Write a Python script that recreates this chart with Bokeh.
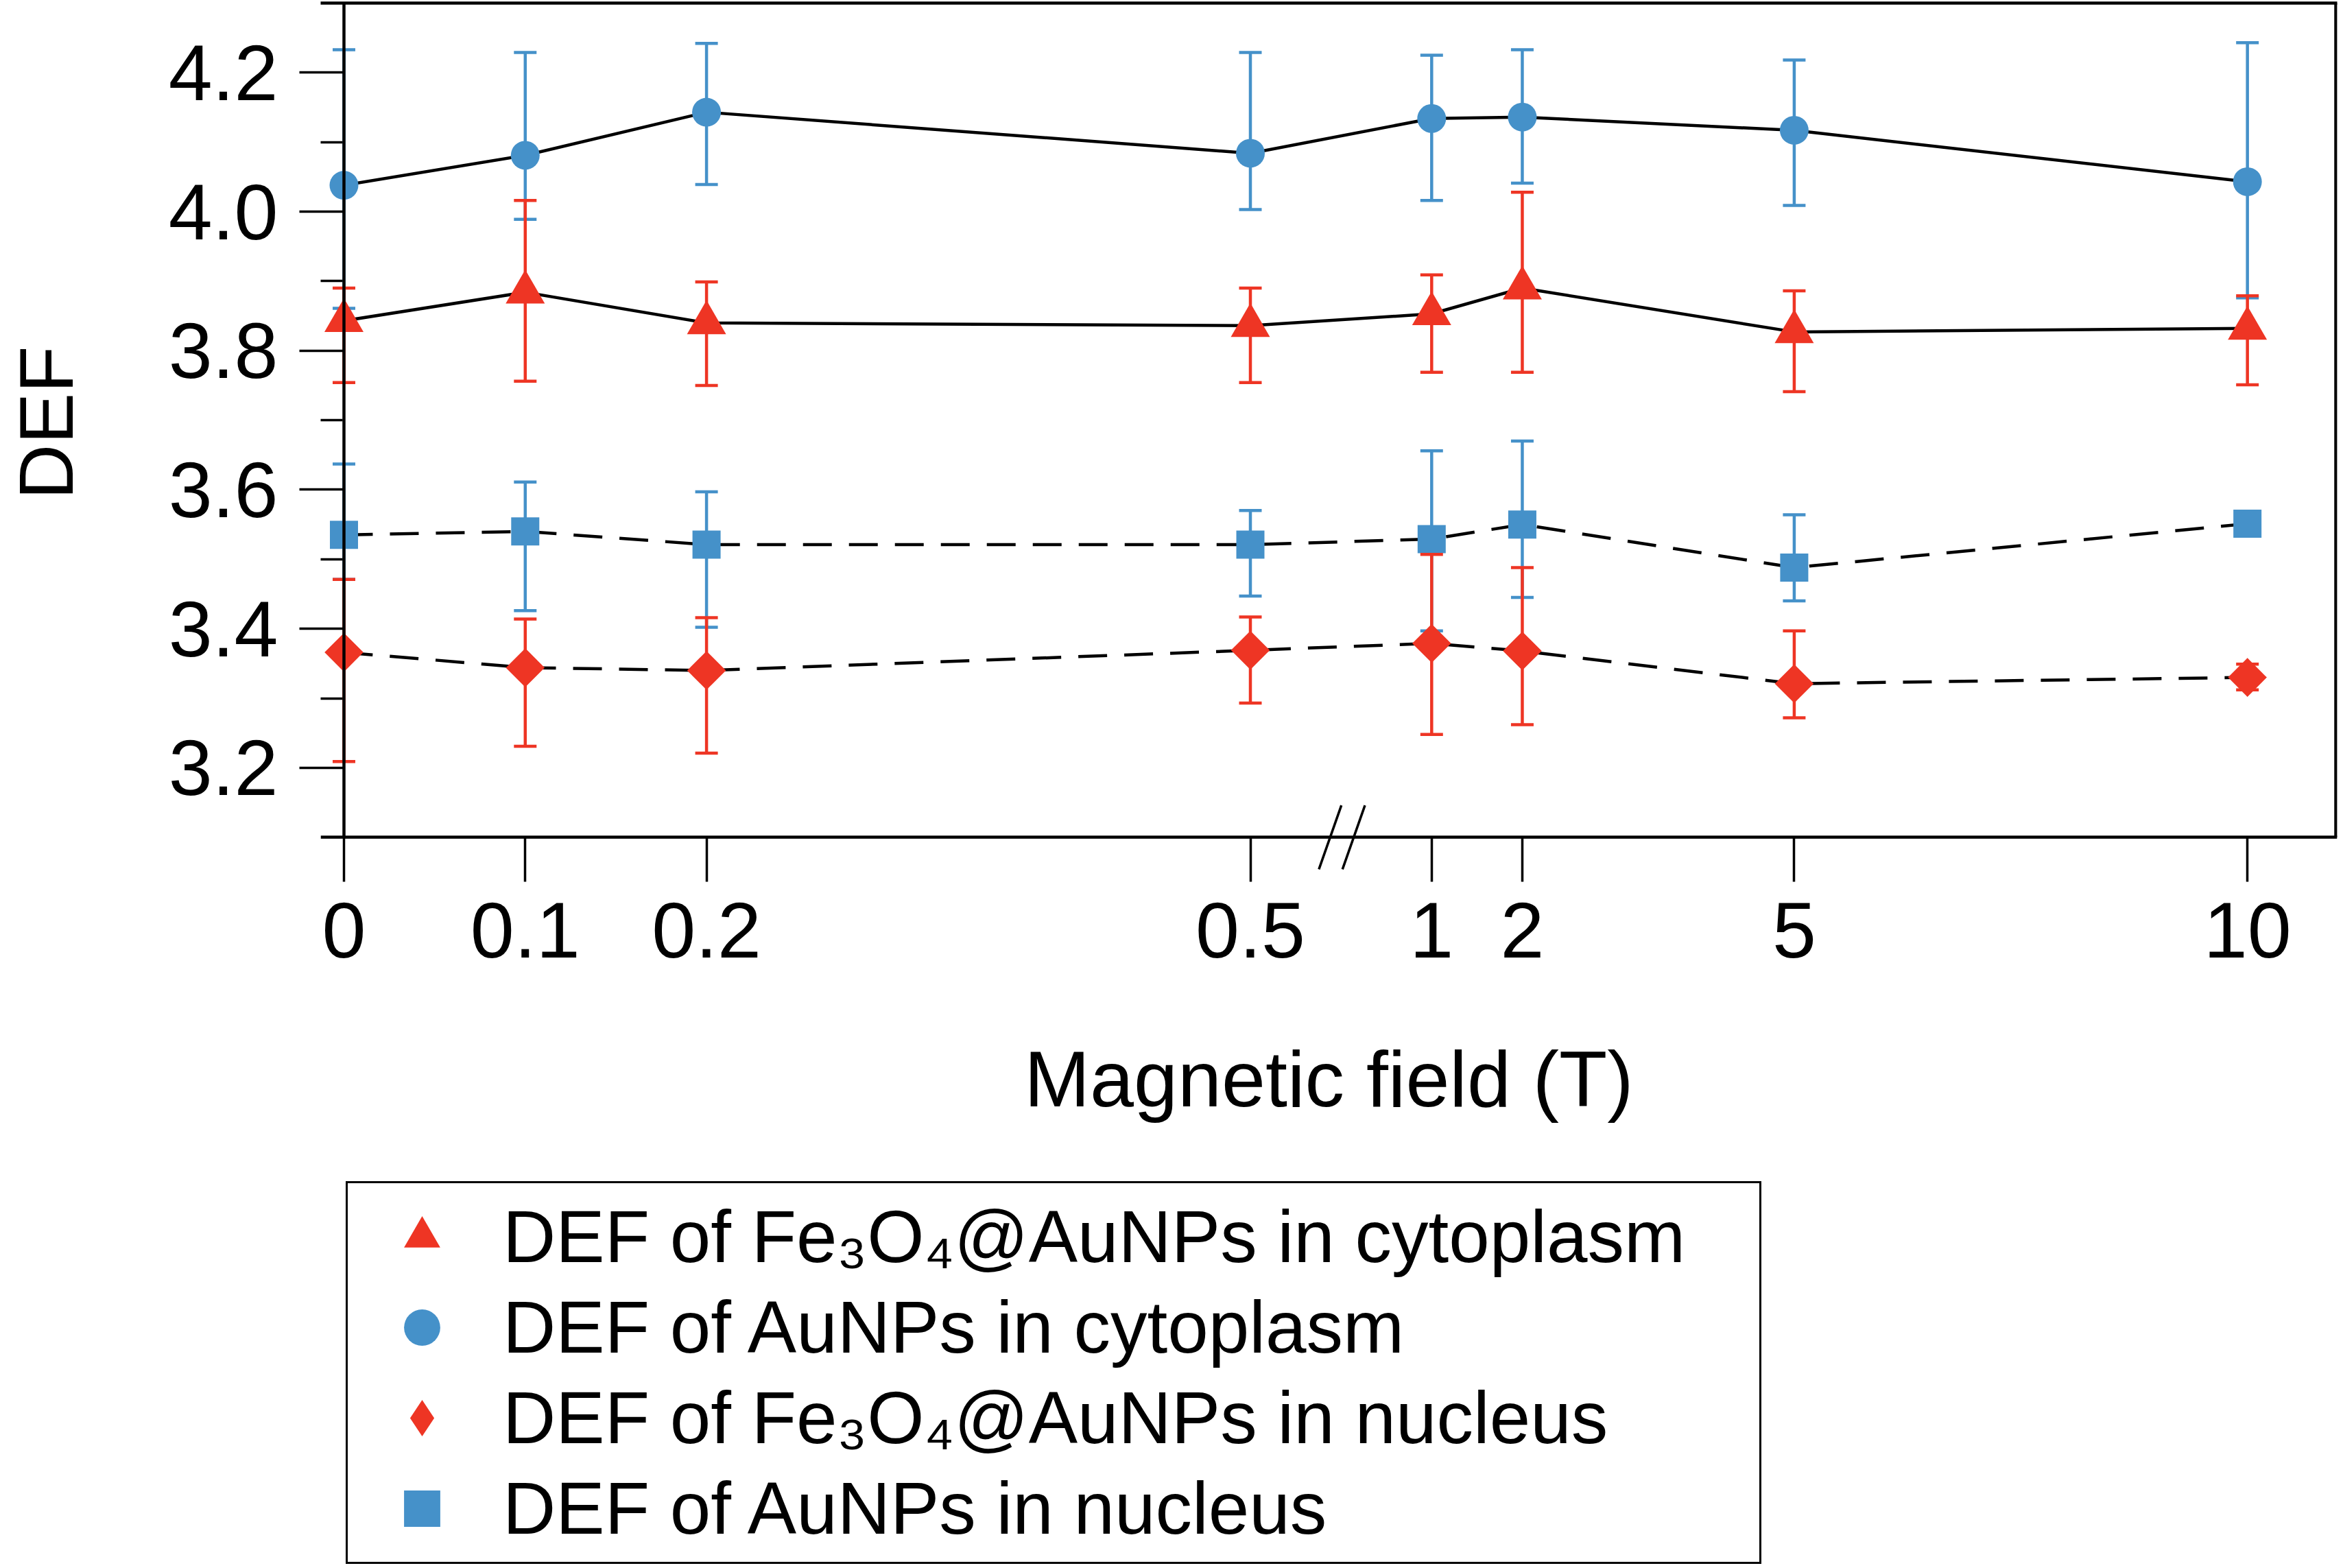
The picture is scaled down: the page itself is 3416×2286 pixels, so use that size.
import math
from bokeh.plotting import figure
from bokeh.models import (ColumnDataSource, Range1d, FixedTicker, PrintfTickFormatter,
                          LinearAxis, Legend, LegendItem, Title)
from bokeh.embed import file_html
from bokeh.resources import INLINE

# ---------------- data ----------------
FIELD_T = [0, 0.1, 0.2, 0.5, 1, 2, 5, 10]
FIELD_LABELS = ["0", "0.1", "0.2", "0.5", "1", "2", "5", "10"]

# DEF of AuNPs in cytoplasm (blue circles)
au_cyto = [4.038, 4.081, 4.143, 4.084, 4.134, 4.136, 4.117, 4.043]
au_cyto_up = [4.233, 4.229, 4.242, 4.229, 4.225, 4.233, 4.218, 4.243]
au_cyto_low = [3.861, 3.989, 4.039, 4.003, 4.016, 4.041, 4.009, 3.876]

# DEF of Fe3O4@AuNPs in cytoplasm (red triangles)
fe_cyto = [3.843, 3.884, 3.840, 3.836, 3.853, 3.890, 3.827, 3.832]
fe_cyto_up = [3.890, 4.016, 3.899, 3.890, 3.909, 4.028, 3.886, 3.879]
fe_cyto_low = [3.754, 3.756, 3.750, 3.754, 3.769, 3.769, 3.741, 3.751]

# DEF of AuNPs in nucleus (blue squares)
au_nuc = [3.535, 3.540, 3.521, 3.521, 3.529, 3.550, 3.488, 3.551]
au_nuc_up = [3.637, 3.611, 3.597, 3.570, 3.656, 3.670, 3.564, 3.561]
au_nuc_low = [3.471, 3.426, 3.402, 3.447, 3.397, 3.445, 3.440, 3.541]

# DEF of Fe3O4@AuNPs in nucleus (red diamonds)
fe_nuc = [3.366, 3.344, 3.340, 3.369, 3.379, 3.368, 3.321, 3.330]
fe_nuc_up = [3.471, 3.414, 3.416, 3.417, 3.507, 3.488, 3.397, 3.349]
fe_nuc_low = [3.209, 3.231, 3.221, 3.293, 3.248, 3.262, 3.272, 3.312]

Y_TICKS = [3.2, 3.4, 3.6, 3.8, 4.0, 4.2]
Y_MINOR = [3.3, 3.5, 3.7, 3.9, 4.1]
Y_AXIS_BASE = 3.1   # DEF value at which the field axis sits
Y_TOP = 4.3

LABEL_FE_CYTO = "DEF of Fe\u2083O\u2084@AuNPs in cytoplasm"
LABEL_AU_CYTO = "DEF of AuNPs in cytoplasm"
LABEL_FE_NUC = "DEF of Fe\u2083O\u2084@AuNPs in nucleus"
LABEL_AU_NUC = "DEF of AuNPs in nucleus"


# broken field axis: 0-0.5 T at 10 units per T, 1-10 T at 0.5 units per T
def field_to_pos(v):
    return v / 0.1 if v <= 0.5 else 6 + (v - 1) * 0.5


BREAK_POS = (field_to_pos(0.5) + field_to_pos(1)) / 2
POS = [field_to_pos(v) for v in FIELD_T]
X_START, X_END = -0.1286, 10.995

RED = "#EE3524"
BLUE = "#4591C9"
FONT = "Liberation Sans"
LW = 4.5

FIG_W, FIG_H = 3412, 2284
BORDER_L, BORDER_R, BORDER_T, BORDER_B = 467, 5, 4, 2
FRAME_W = FIG_W - BORDER_L - BORDER_R
FRAME_H = FIG_H - BORDER_T - BORDER_B
PX_PER_Y = 1013.5
Y_START = Y_TOP - FRAME_H / PX_PER_Y       # frame continues below the axis (labels, legend)
PX_X = (X_END - X_START) / FRAME_W        # data units per pixel along x

p = figure(width=FIG_W, height=FIG_H,
           x_range=Range1d(X_START, X_END), y_range=Range1d(Y_START, Y_TOP),
           output_backend="svg", toolbar_location=None,
           min_border_left=BORDER_L, min_border_right=BORDER_R,
           min_border_top=BORDER_T, min_border_bottom=BORDER_B)
p.outline_line_color = None
p.xgrid.visible = False
p.ygrid.visible = False
p.background_fill_color = "white"
p.border_fill_color = "white"

# field axis, drawn at DEF = 3.1
xa = p.xaxis[0]
xa.fixed_location = Y_AXIS_BASE
xa.ticker = FixedTicker(ticks=POS, minor_ticks=[])
xa.major_label_overrides = {pos: lab for pos, lab in zip(POS, FIELD_LABELS)}
xa.axis_line_width = LW
xa.major_tick_out = 65
xa.major_tick_in = 0
xa.major_tick_line_width = 3.5
xa.major_label_standoff = 30
xa.major_label_text_font = FONT
xa.major_label_text_font_size = "115px"
xa.major_label_text_color = "black"
xa.axis_label = "Magnetic field (T)"
xa.axis_label_text_font = FONT
xa.axis_label_text_font_size = "115px"
xa.axis_label_text_font_style = "normal"
xa.axis_label_text_color = "black"
xa.axis_label_standoff = 110

# DEF axis (left): ticks and labels; its line is drawn at field 0 below
ya = p.yaxis[0]
ya.ticker = FixedTicker(ticks=Y_TICKS, minor_ticks=Y_MINOR)
ya.formatter = PrintfTickFormatter(format="%.1f")
ya.axis_line_color = None
ya.major_tick_out = 31
ya.major_tick_in = 35
ya.minor_tick_out = 0
ya.minor_tick_in = 32
ya.major_tick_line_width = 3.5
ya.minor_tick_line_width = 3.5
ya.major_label_standoff = 31
ya.major_label_text_font = FONT
ya.major_label_text_font_size = "115px"
ya.major_label_text_color = "black"

# blank gap between the tick labels and the DEF title (one white, unlabeled tick)
GAP_TICK = [3.7]
spacer = LinearAxis(ticker=FixedTicker(ticks=GAP_TICK, minor_ticks=[]),
                    axis_line_color=None, major_tick_out=112, major_tick_in=0,
                    minor_tick_out=0, minor_tick_in=0, major_label_standoff=0,
                    major_tick_line_color="white", major_tick_line_width=1,
                    major_label_overrides={GAP_TICK[0]: ""})
p.add_layout(spacer, "left")

DEF_BOTTOM_PX = 728
p.add_layout(Title(text="DEF", align="left",
                   offset=BORDER_T + FRAME_H - DEF_BOTTOM_PX,
                   vertical_align="middle", standoff=0,
                   text_font=FONT, text_font_size="112px", text_font_style="normal",
                   text_color="black"), "left")

# top border of the frame
top_ax = LinearAxis(ticker=FixedTicker(ticks=[]), axis_line_width=LW,
                    major_tick_out=0, major_tick_in=0, minor_tick_out=0,
                    minor_tick_in=0, major_label_standoff=0)
p.add_layout(top_ax, "above")

series = [
    (au_nuc, au_nuc_up, au_nuc_low, BLUE, "square", 41, 0.0, "42 25"),
    (fe_nuc, fe_nuc_up, fe_nuc_low, RED, "square", 40, math.pi / 4, "42 25"),
    (au_cyto, au_cyto_up, au_cyto_low, BLUE, "circle", 42, 0.0, "solid"),
    (fe_cyto, fe_cyto_up, fe_cyto_low, RED, "triangle", 57, 0.0, "solid"),
]

CAP_HALF = 16.5 * PX_X
sources = []
for ys, up, low, color, marker, size, ang, dash in series:
    src = ColumnDataSource(dict(pos=POS, y=ys, up=up, low=low,
                                cap_l=[x - CAP_HALF for x in POS],
                                cap_r=[x + CAP_HALF for x in POS]))
    sources.append(src)
    p.line("pos", "y", source=src, line_color="black", line_width=LW, line_dash=dash)

renderers = []
diamond_swatch = None
for src, (ys, up, low, color, marker, size, ang, dash) in zip(sources, series):
    p.segment(x0="pos", y0="low", x1="pos", y1="up", source=src,
              line_color=color, line_width=LW)
    p.segment(x0="cap_l", y0="up", x1="cap_r", y1="up", source=src,
              line_color=color, line_width=LW)
    p.segment(x0="cap_l", y0="low", x1="cap_r", y1="low", source=src,
              line_color=color, line_width=LW)
    if ang:
        # same points as a plain diamond (fully covered by the rotated square);
        # used for the legend swatch, since legend glyphs are drawn unrotated
        diamond_swatch = p.scatter("pos", "y", source=src, marker="diamond",
                                   size=size * 1.4, fill_color=color, line_color=None)
    r = p.scatter("pos", "y", source=src, marker=marker, size=size, angle=ang,
                  fill_color=color, line_color=None)
    renderers.append(r)

# DEF axis line at field 0 and right border of the frame
p.segment(x0=[0, X_END - 2 * PX_X], y0=[Y_AXIS_BASE, Y_AXIS_BASE],
          x1=[0, X_END - 2 * PX_X], y1=[Y_TOP, Y_TOP],
          line_color="black", line_width=LW)

# axis break marks "//"
p.segment(x0=[BREAK_POS - 0.122, BREAK_POS + 0.008], y0=[3.054, 3.054],
          x1=[BREAK_POS + 0.002, BREAK_POS + 0.132], y1=[3.146, 3.146],
          line_color="black", line_width=3.5)

r_au_nuc, r_fe_nuc, r_au_cyto, r_fe_cyto = renderers
legend = Legend(items=[
    LegendItem(label=LABEL_FE_CYTO, renderers=[r_fe_cyto]),
    LegendItem(label=LABEL_AU_CYTO, renderers=[r_au_cyto]),
    LegendItem(label=LABEL_FE_NUC, renderers=[diamond_swatch]),
    LegendItem(label=LABEL_AU_NUC, renderers=[r_au_nuc]),
], location=(37, 2), orientation="vertical", padding=12, spacing=0,
    glyph_width=192, glyph_height=132, label_standoff=22, label_width=1820,
    label_text_font=FONT, label_text_font_size="107px", label_text_color="black",
    border_line_color="black", border_line_width=3, border_line_alpha=1.0,
    background_fill_color="white", background_fill_alpha=1.0, margin=0)
p.add_layout(legend)

open("out.html", "w").write(file_html(p, INLINE))
